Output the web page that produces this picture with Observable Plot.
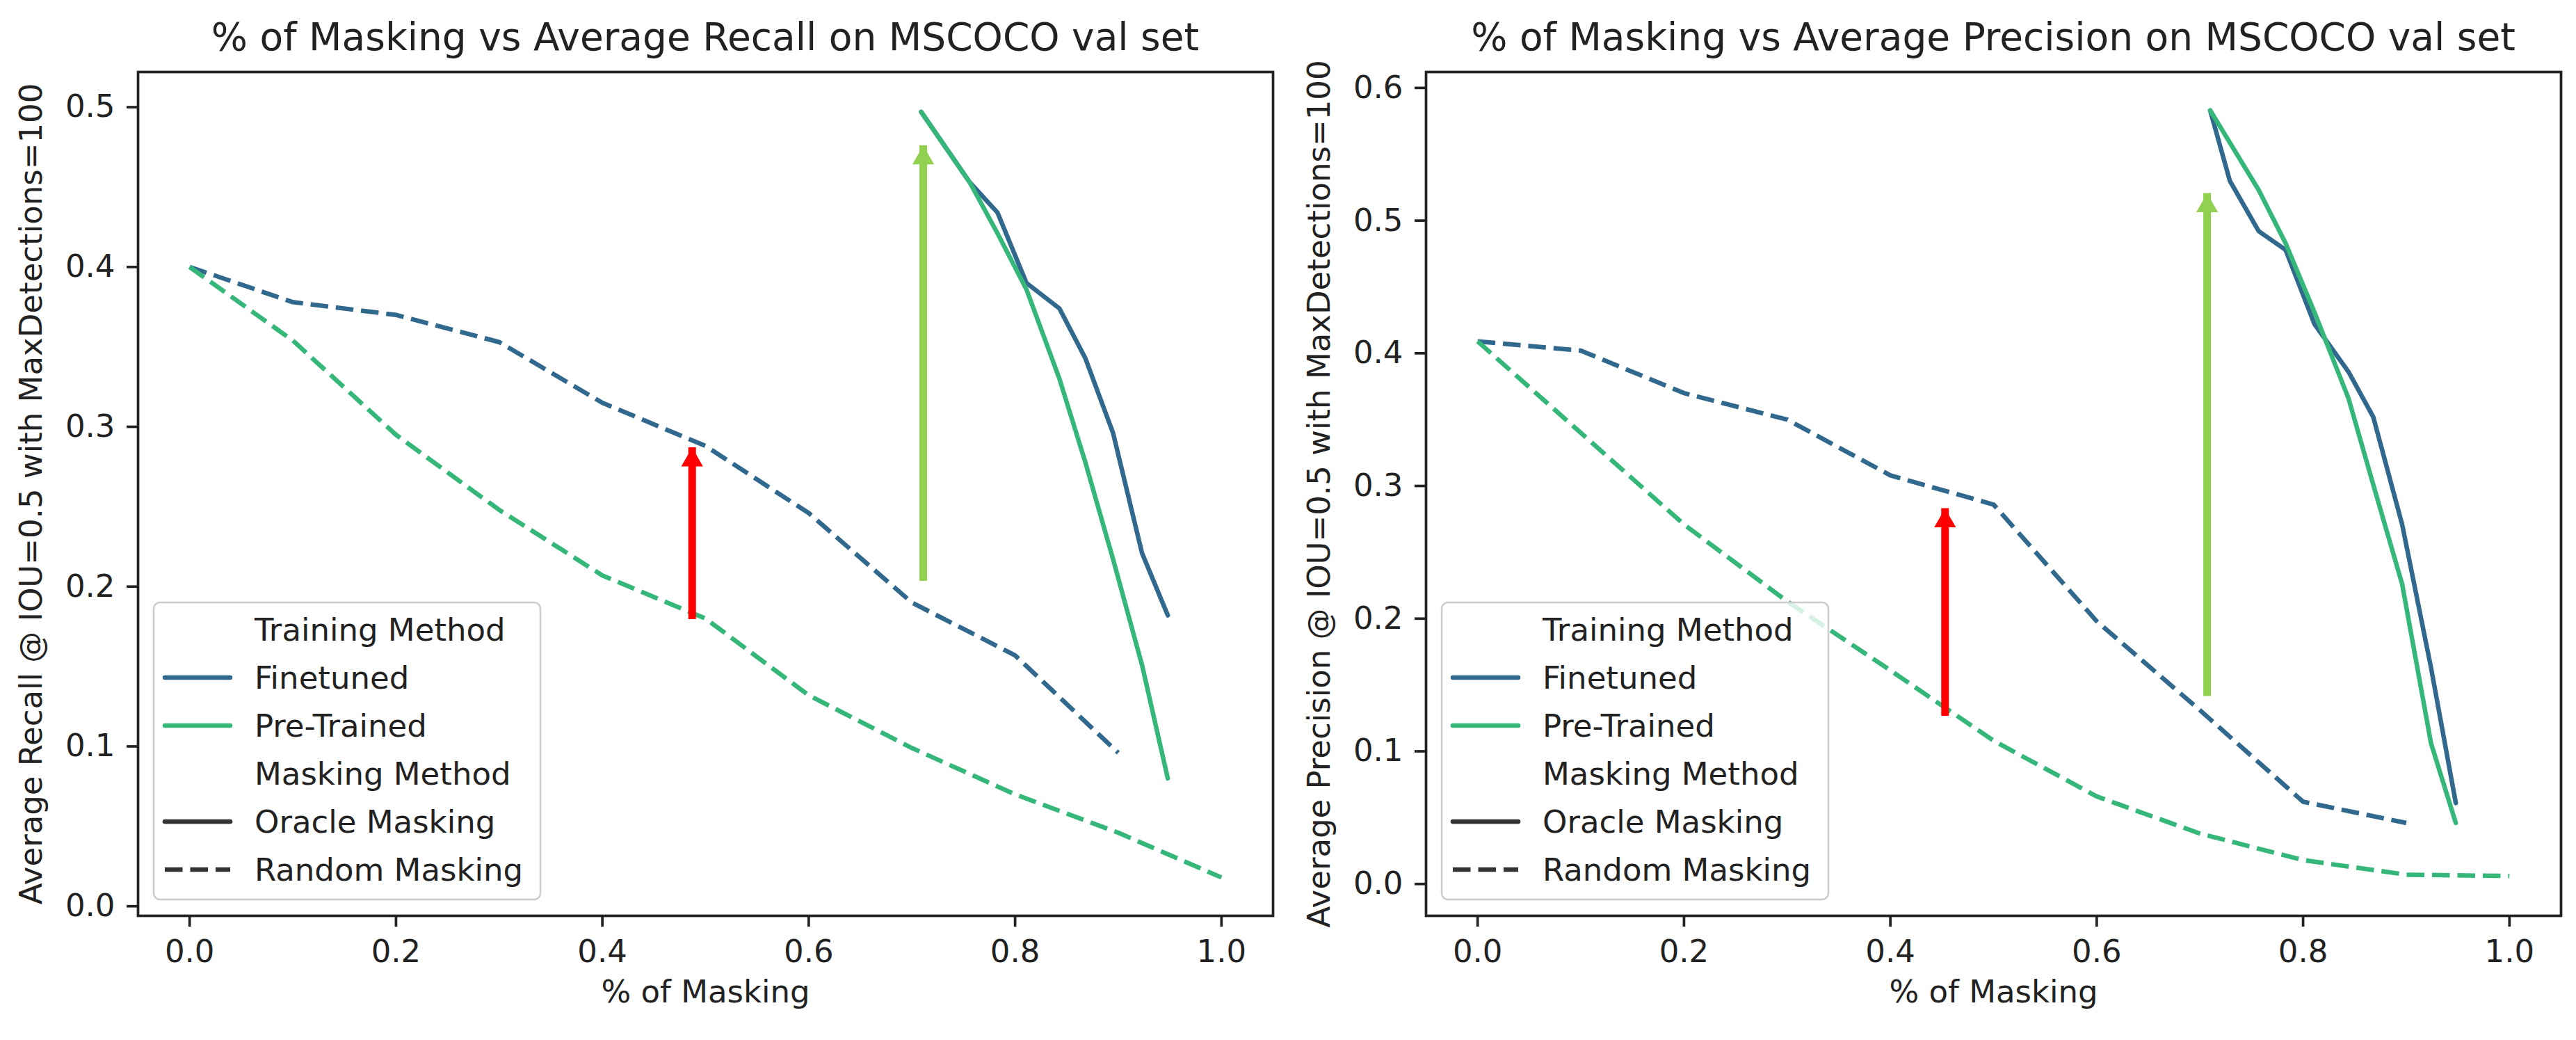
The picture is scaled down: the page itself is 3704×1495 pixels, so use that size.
<!DOCTYPE html>
<html>
<head>
<meta charset="utf-8">
<script src="https://cdn.jsdelivr.net/npm/d3@7"></script>
<script src="https://cdn.jsdelivr.net/npm/@observablehq/plot@0.6"></script>
<style>
  html, body { margin: 0; padding: 0; background: #fff; }
  #wrap { display: flex; width: 3704px; height: 1495px; font-family: "DejaVu Sans", sans-serif; color: #222; }
  .panel { position: relative; width: 1852px; height: 1495px; }
  .title { box-sizing: border-box; height: 100px; padding-top: 26px; margin-left: 198px; width: 1632px;
           text-align: center; font-size: 55px; line-height: 55px; white-space: nowrap; }
  .panel svg.legend { position: absolute; left: 0; top: 0; pointer-events: none; }
</style>
</head>
<body>
<div id="wrap"></div>
<script>
// ---------- data ----------
const titles = [
  "% of Masking vs Average Recall on MSCOCO val set",
  "% of Masking vs Average Precision on MSCOCO val set"
];
const yLabels = [
  "Average Recall @ IOU=0.5 with MaxDetections=100",
  "Average Precision @ IOU=0.5 with MaxDetections=100"
];
const xLabel = "% of Masking";
const xTicks = [0, 0.2, 0.4, 0.6, 0.8, 1.0];
const yTicksRecall = [0, 0.1, 0.2, 0.3, 0.4, 0.5];
const yTicksPrecision = [0, 0.1, 0.2, 0.3, 0.4, 0.5, 0.6];

// Random masking x positions
const maskRandomFinetuned = [0, 0.1, 0.2, 0.3, 0.4, 0.5, 0.6, 0.7, 0.8, 0.9];
const maskRandomPretrained = [0, 0.1, 0.2, 0.3, 0.4, 0.5, 0.6, 0.7, 0.8, 0.9, 1.0];

// Recall panel
const recallFinetunedRandom = [0.400, 0.378, 0.370, 0.353, 0.315, 0.288, 0.246, 0.190, 0.157, 0.096];
const recallPretrainedRandom = [0.400, 0.354, 0.295, 0.248, 0.207, 0.180, 0.132, 0.099, 0.070, 0.046, 0.018];
const recallOracleMask = [0.709, 0.756, 0.783, 0.811, 0.843, 0.868, 0.895, 0.923, 0.948];
const recallFinetunedOracle = [0.497, 0.453, 0.434, 0.390, 0.374, 0.343, 0.296, 0.221, 0.182];
const recallPretrainedOracle = [0.497, 0.453, 0.421, 0.386, 0.330, 0.278, 0.217, 0.151, 0.080];

// Precision panel
const precisionFinetunedRandom = [0.409, 0.402, 0.370, 0.350, 0.308, 0.286, 0.198, 0.131, 0.062, 0.046];
const precisionPretrainedRandom = [0.409, 0.340, 0.271, 0.213, 0.161, 0.108, 0.066, 0.038, 0.018, 0.007, 0.006];
const precisionFinetunedOracleMask = [0.710, 0.729, 0.757, 0.783, 0.811, 0.844, 0.868, 0.896, 0.924, 0.948];
const precisionFinetunedOracle = [0.583, 0.530, 0.492, 0.478, 0.422, 0.386, 0.352, 0.271, 0.163, 0.061];
const precisionPretrainedOracleMask = [0.710, 0.757, 0.783, 0.811, 0.844, 0.868, 0.896, 0.924, 0.948];
const precisionPretrainedOracle = [0.583, 0.523, 0.483, 0.431, 0.366, 0.301, 0.226, 0.106, 0.046];

// Annotation arrows: x, base, tip
const recallArrowX = [0.487, 0.711];
const recallArrowBase = [0.189, 0.213];
const recallArrowTip = [0.287, 0.476];
const precisionArrowX = [0.453, 0.707];
const precisionArrowBase = [0.138, 0.153];
const precisionArrowTip = [0.283, 0.5205];
const arrowColors = ["#ff0000", "#92d050"];

// Legend
const legendLabels = ["Training Method", "Finetuned", "Pre-Trained", "Masking Method", "Oracle Masking", "Random Masking"];

// ---------- styles ----------
const colFinetuned = "#31688e";
const colPretrained = "#35b779";
const dash = "25.5,11";
const lw = 6.5;
const ink = "#222";

function panel(cfg) {
  const div = document.createElement("div");
  div.className = "panel";
  const t = document.createElement("div");
  t.className = "title";
  t.textContent = cfg.title;
  div.appendChild(t);

  const series = [
    {x: maskRandomFinetuned, y: cfg.ftRandom, stroke: colFinetuned, dash: dash},
    {x: maskRandomPretrained, y: cfg.ptRandom, stroke: colPretrained, dash: dash},
    {x: cfg.ftOracleX, y: cfg.ftOracle, stroke: colFinetuned, dash: null},
    {x: cfg.ptOracleX, y: cfg.ptOracle, stroke: colPretrained, dash: null}
  ];
  const lineMarks = series.map(s => Plot.line(s.y, {
    x: s.x, y: s.y, stroke: s.stroke, strokeWidth: lw,
    strokeDasharray: s.dash || undefined,
    strokeLinecap: s.dash ? "butt" : "round",
    strokeLinejoin: "round"
  }));

  const arrows = cfg.arrowX.map((x, i) => ({x, base: cfg.arrowBase[i], tip: cfg.arrowTip[i], color: arrowColors[i]}));

  const svg = Plot.plot({
    width: 1852,
    height: 1395,
    marginTop: 3,
    marginBottom: 179,
    marginLeft: 198,
    marginRight: 22,
    style: {fontFamily: "DejaVu Sans", fontSize: "45px", background: "white", overflow: "visible", color: ink},
    x: {domain: [-0.05, 1.05]},
    y: {domain: cfg.yDomain},
    marks: [
      ...lineMarks,
      Plot.ruleX(arrows, {x: "x", y1: "base", y2: "tip", stroke: "color", strokeWidth: 11, insetTop: 22}),
      Plot.dot(arrows, {x: "x", y: "tip", symbol: "triangle", r: 11.6, fill: "color", stroke: null, dy: 18}),
      Plot.frame({stroke: ink, strokeWidth: 3.7}),
      Plot.axisX({ticks: xTicks, tickFormat: d3.format(".1f"), tickSize: 16, tickPadding: 19,
                  fontSize: 45, strokeWidth: 3.7, stroke: ink, fill: ink, label: null}),
      Plot.axisY({ticks: cfg.yTicks, tickFormat: d3.format(".1f"), tickSize: 16, tickPadding: 17,
                  fontSize: 45, strokeWidth: 3.7, stroke: ink, fill: ink, label: null}),
      Plot.text([xLabel], {frameAnchor: "bottom", dy: 110, fontSize: 45, fill: ink, lineAnchor: "middle", textAnchor: "middle"}),
      Plot.text([cfg.yLabel], {frameAnchor: "left", rotate: -90, dx: -153, fontSize: 45, fill: ink, lineAnchor: "middle", textAnchor: "middle"})
    ]
  });
  div.appendChild(svg);

  // Legend overlay (lower-left inside the axes)
  const ns = "http://www.w3.org/2000/svg";
  const lg = document.createElementNS(ns, "svg");
  lg.setAttribute("class", "legend");
  lg.setAttribute("width", 1852);
  lg.setAttribute("height", 1495);
  const rect = document.createElementNS(ns, "rect");
  Object.entries({x: 221, y: 866, width: 556, height: 427, rx: 9, fill: "white", "fill-opacity": 0.8,
                  stroke: "#cccccc", "stroke-width": 2.5}).forEach(([k, v]) => rect.setAttribute(k, v));
  lg.appendChild(rect);
  const handles = [null, {c: colFinetuned}, {c: colPretrained}, null, {c: "#333"}, {c: "#333", d: dash}];
  legendLabels.forEach((lab, i) => {
    const cy = 905 + 69 * i;
    const h = handles[i];
    if (h) {
      const l = document.createElementNS(ns, "line");
      Object.entries({x1: 237, x2: 331, y1: cy, y2: cy, stroke: h.c, "stroke-width": lw,
                      "stroke-linecap": h.d ? "butt" : "round"}).forEach(([k, v]) => l.setAttribute(k, v));
      if (h.d) l.setAttribute("stroke-dasharray", h.d);
      lg.appendChild(l);
    }
    const tx = document.createElementNS(ns, "text");
    tx.setAttribute("x", 366);
    tx.setAttribute("y", cy + 16);
    tx.setAttribute("font-size", 45);
    tx.setAttribute("font-family", "DejaVu Sans");
    tx.setAttribute("fill", ink);
    tx.textContent = lab;
    lg.appendChild(tx);
  });
  div.appendChild(lg);
  return div;
}

const wrap = document.getElementById("wrap");
wrap.appendChild(panel({
  title: titles[0], yLabel: yLabels[0], yTicks: yTicksRecall, yDomain: [-0.006, 0.522],
  ftRandom: recallFinetunedRandom, ptRandom: recallPretrainedRandom,
  ftOracleX: recallOracleMask, ftOracle: recallFinetunedOracle,
  ptOracleX: recallOracleMask, ptOracle: recallPretrainedOracle,
  arrowX: recallArrowX, arrowBase: recallArrowBase, arrowTip: recallArrowTip
}));
wrap.appendChild(panel({
  title: titles[1], yLabel: yLabels[1], yTicks: yTicksPrecision, yDomain: [-0.024, 0.612],
  ftRandom: precisionFinetunedRandom, ptRandom: precisionPretrainedRandom,
  ftOracleX: precisionFinetunedOracleMask, ftOracle: precisionFinetunedOracle,
  ptOracleX: precisionPretrainedOracleMask, ptOracle: precisionPretrainedOracle,
  arrowX: precisionArrowX, arrowBase: precisionArrowBase, arrowTip: precisionArrowTip
}));
</script>
</body>
</html>
